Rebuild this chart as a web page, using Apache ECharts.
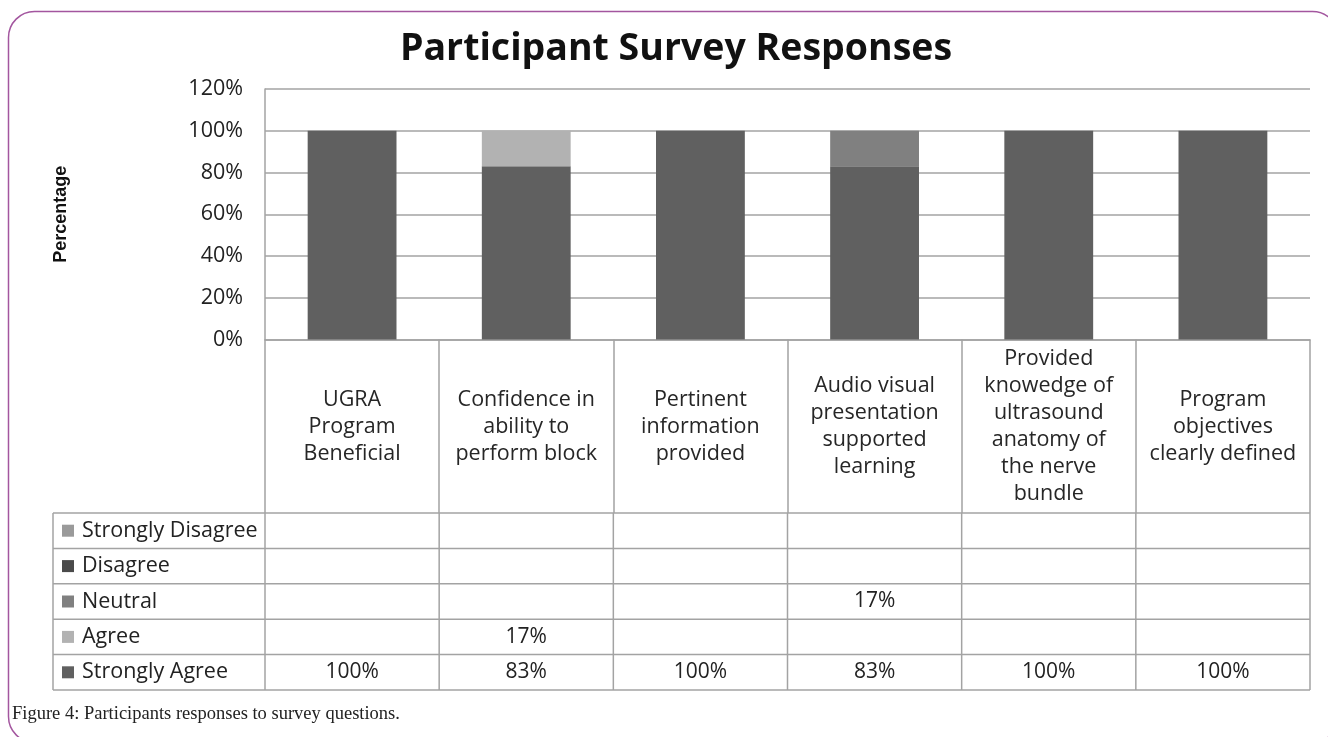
<!DOCTYPE html>
<html>
<head>
<meta charset="utf-8">
<script src="https://cdn.jsdelivr.net/npm/echarts@6/dist/echarts.min.js"></script>
<style>
  html, body { margin: 0; padding: 0; background: #ffffff; }
  #chart { width: 1328px; height: 737px; }
</style>
</head>
<body>
<div id="chart"></div>
<script>
// Texts
const titleText = 'Participant Survey Responses';
const yAxisName = 'Percentage';
const captionText = 'Figure 4: Participants responses to survey questions.';

// Survey questions (tick labels, wrapped as printed in the table header)
const categories = [
  'UGRA\nProgram\nBeneficial',
  'Confidence in\nability to\nperform block',
  'Pertinent\ninformation\nprovided',
  'Audio visual\npresentation\nsupported\nlearning',
  'Provided\nknowedge of\nultrasound\nanatomy of\nthe nerve\nbundle',
  'Program\nobjectives\nclearly defined'
];

// Response shares in percent (null = no responses)
const stronglyAgree    = [100, 83, 100, 83, 100, 100];
const agree            = [null, 17, null, null, null, null];
const neutral          = [null, null, null, 17, null, null];
const disagree         = [null, null, null, null, null, null];
const stronglyDisagree = [null, null, null, null, null, null];

// Stack order, bottom to top
const seriesNames = ['Strongly Agree', 'Agree', 'Neutral', 'Disagree', 'Strongly Disagree'];
const seriesData = [stronglyAgree, agree, neutral, disagree, stronglyDisagree];
const seriesColors = ['#606060', '#b2b2b2', '#808080', '#4a4a4a', '#9a9a9a'];

const FONT = '"Open Sans", Lato, sans-serif';
const LINE = '#a3a3a3';
const TEXT = '#222222';
const TABLE = { left: 53, headerBottom: 513, bottom: 690 };

const chart = echarts.init(document.getElementById('chart'), null, { renderer: 'canvas' });

chart.setOption({
  animation: false,
  backgroundColor: '#ffffff',
  title: {
    text: titleText,
    left: 671,
    textAlign: 'center',
    top: 25,
    textStyle: { fontFamily: FONT, fontWeight: 'bold', fontSize: 37.5, color: '#111111' }
  },
  grid: { left: 265, right: 18, top: 89, bottom: 397.5, containLabel: false },
  xAxis: {
    type: 'category',
    data: categories,
    boundaryGap: true,
    axisLine: { show: true, lineStyle: { color: LINE, width: 1.5 } },
    axisTick: { show: true, interval: 0, length: TABLE.headerBottom - 339.5, lineStyle: { color: LINE, width: 1.5 } },
    axisLabel: {
      interval: 0,
      margin: 87,
      verticalAlign: 'middle',
      align: 'center',
      lineHeight: 27,
      fontSize: 21.5,
      fontFamily: FONT,
      color: '#262626'
    },
    splitLine: { show: false }
  },
  yAxis: {
    type: 'value',
    min: 0,
    max: 120,
    interval: 20,
    name: yAxisName,
    nameLocation: 'middle',
    nameRotate: 90,
    nameGap: 195,
    nameTextStyle: { fontFamily: '"Liberation Sans", Arial, sans-serif', fontWeight: 'bold', fontSize: 18, color: '#111111' },
    axisLine: { show: true, lineStyle: { color: LINE, width: 1.5 } },
    axisTick: { show: false },
    axisLabel: { formatter: '{value}%', fontSize: 21.5, fontFamily: FONT, color: TEXT, margin: 22 },
    splitLine: { show: true, lineStyle: { color: LINE, width: 1.5 } }
  },
  series: seriesNames.map((name, i) => ({
    name: name,
    type: 'bar',
    stack: 'responses',
    barWidth: '51%',
    itemStyle: { color: seriesColors[i] },
    data: seriesData[i]
  }))
});

// Data table under the axis: legend keys, series names and values per question
function buildTable() {
  const centers = categories.map((_, i) => chart.convertToPixel({ xAxisIndex: 0 }, i));
  const band = centers[1] - centers[0];
  const bounds = centers.map(c => c - band / 2);
  bounds.push(centers[centers.length - 1] + band / 2);
  const right = bounds[bounds.length - 1];
  const rowNames = seriesNames.slice().reverse();
  const rowData = seriesData.slice().reverse();
  const rowColors = seriesColors.slice().reverse();
  const rowH = (TABLE.bottom - TABLE.headerBottom) / rowNames.length;
  const els = [];
  const lineStyle = { stroke: LINE, lineWidth: 1.5 };

  for (let k = 0; k <= rowNames.length; k++) {
    const y = TABLE.headerBottom + k * rowH;
    els.push({ type: 'line', shape: { x1: TABLE.left, y1: y, x2: right, y2: y }, style: lineStyle, silent: true });
  }
  [TABLE.left].concat(bounds).forEach(x => {
    els.push({ type: 'line', shape: { x1: x, y1: TABLE.headerBottom, x2: x, y2: TABLE.bottom }, style: lineStyle, silent: true });
  });
  rowNames.forEach((name, r) => {
    const cy = TABLE.headerBottom + (r + 0.5) * rowH;
    els.push({ type: 'rect', shape: { x: TABLE.left + 9, y: cy - 6, width: 12, height: 12 }, style: { fill: rowColors[r] }, silent: true });
    els.push({
      type: 'text', x: TABLE.left + 29, y: cy,
      style: { text: name, fontFamily: FONT, fontSize: 21.5, fill: TEXT, verticalAlign: 'middle', align: 'left' },
      silent: true
    });
    rowData[r].forEach((v, c) => {
      if (v === null) return;
      els.push({
        type: 'text', x: centers[c], y: cy,
        style: { text: v + '%', fontFamily: FONT, fontSize: 21, fill: TEXT, verticalAlign: 'middle', align: 'center' },
        silent: true
      });
    });
  });

  // caption and rounded frame
  els.push({
    type: 'text', x: 12, y: 714,
    style: { text: captionText, fontFamily: '"Liberation Serif", "DejaVu Serif", serif', fontSize: 18.5, fill: TEXT, verticalAlign: 'middle', align: 'left' },
    silent: true
  });
  els.push({
    type: 'rect', shape: { x: 8.5, y: 11.5, width: 1330, height: 731, r: 26 },
    style: { fill: 'none', stroke: '#a3569f', lineWidth: 1.5 }, silent: true
  });
  return els;
}

chart.setOption({ graphic: { elements: buildTable() } });
</script>
</body>
</html>
